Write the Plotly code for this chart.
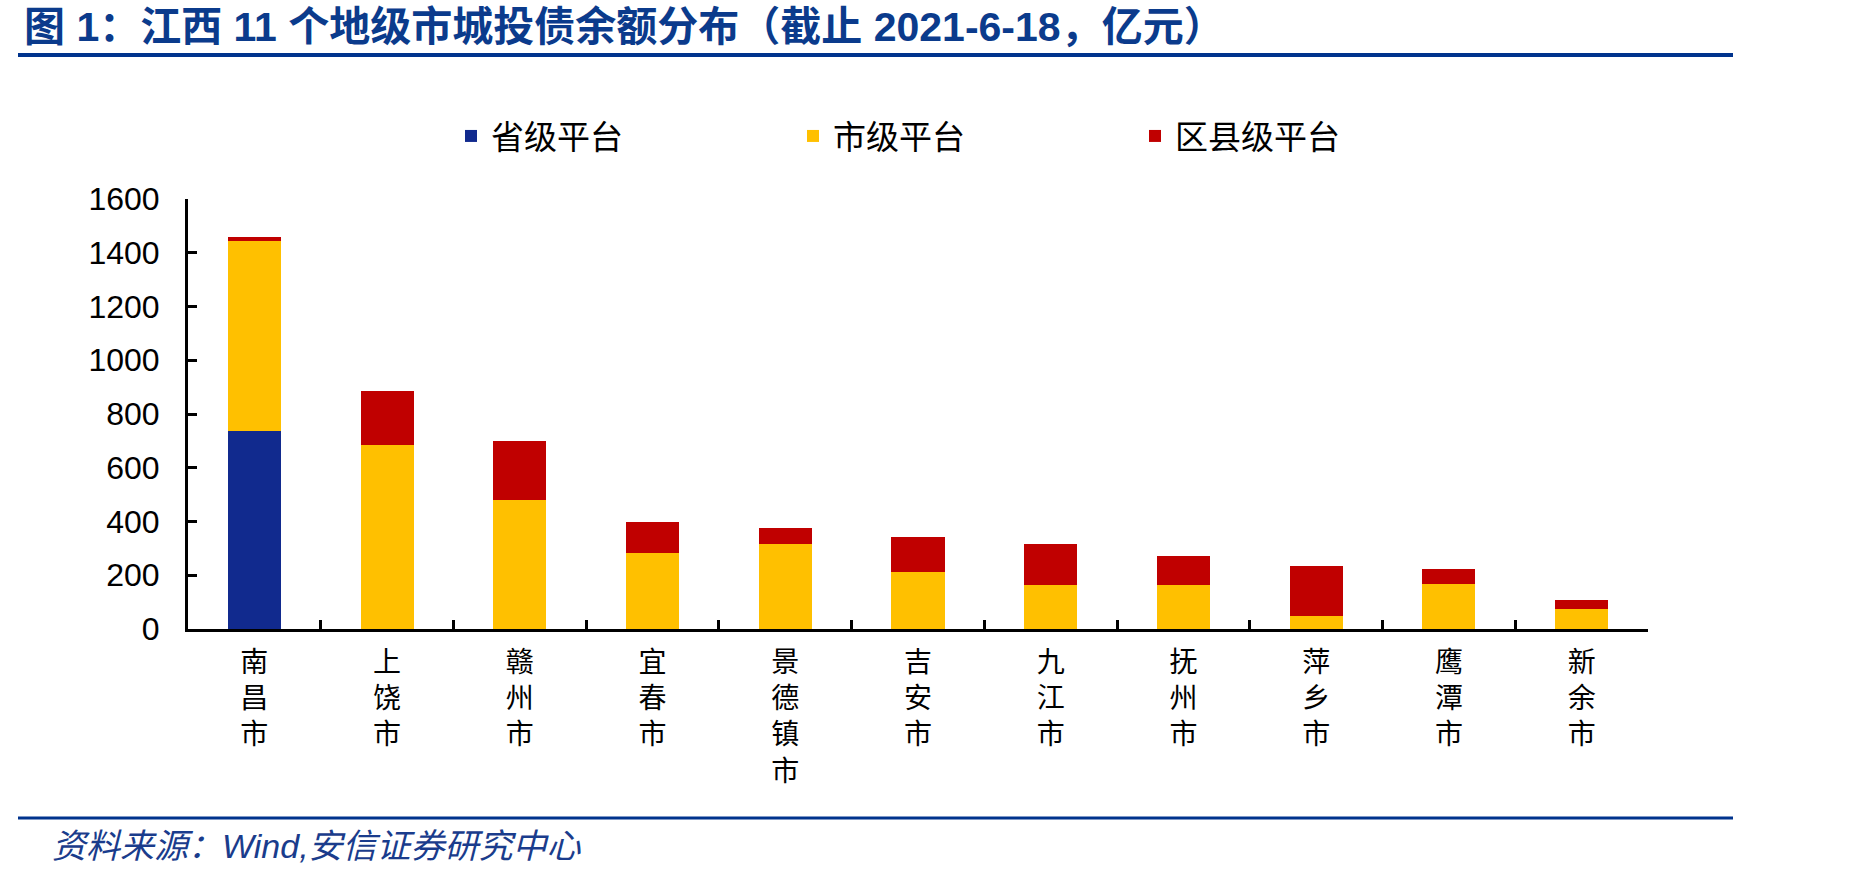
import plotly.graph_objects as go

cities = ["南昌市", "上饶市", "赣州市", "宜春市", "景德镇市", "吉安市", "九江市", "抚州市", "萍乡市", "鹰潭市", "新余市"]
provincial = [735, 0, 0, 0, 0, 0, 0, 0, 0, 0, 0]
municipal = [709, 686, 480, 282, 316, 212, 165, 165, 49, 166, 73]
district = [13, 199, 221, 116, 60, 129, 152, 105, 187, 57, 34]

series_names = ["省级平台", "市级平台", "区县级平台"]
colors = ["#112A8E", "#FFC000", "#C00000"]

tick_text = ["<br>".join(list(c)) for c in cities]

W, H = 1864, 874
L, R, T, B = 188, 1648, 199, 629
pw, ph = R - L, B - T

def px(x):
    return (x - L) / pw

def py(y):
    return (B - y) / ph

fig = go.Figure()
for name, vals, col in zip(series_names, [provincial, municipal, district], colors):
    fig.add_trace(go.Bar(
        name=name, x=cities, y=vals,
        marker=dict(color=col, line=dict(width=0)),
    ))

base_font = "Liberation Sans, Arial, Noto Sans CJK SC, sans-serif"

fig.update_layout(
    width=W, height=H,
    barmode="stack",
    bargap=0.6,
    plot_bgcolor="white",
    paper_bgcolor="white",
    margin=dict(l=L, r=W - R, t=T, b=H - B, pad=0),
    font=dict(family=base_font, color="black"),
    showlegend=True,
    legend=dict(
        orientation="h",
        x=px(451), xanchor="left",
        y=py(136), yanchor="middle",
        font=dict(size=33, family="Noto Sans CJK SC, sans-serif", color="black"),
        entrywidth=297, entrywidthmode="pixels",
        traceorder="normal",
        bgcolor="rgba(0,0,0,0)",
    ),
    xaxis=dict(
        type="category",
        tickmode="array",
        tickvals=cities,
        ticktext=tick_text,
        tickson="boundaries",
        ticks="inside",
        ticklen=9,
        tickwidth=3,
        tickcolor="black",
        showline=True,
        linecolor="black",
        linewidth=3,
        showgrid=False,
        zeroline=False,
        tickangle=0,
        tickfont=dict(size=28, family="Noto Sans CJK SC, sans-serif", color="black"),
        ticklabelstandoff=6,
    ),
    yaxis=dict(
        range=[0, 1600],
        tick0=0, dtick=200,
        ticks="inside",
        ticklen=9,
        tickwidth=3,
        tickcolor="black",
        showline=True,
        linecolor="black",
        linewidth=3,
        showgrid=False,
        zeroline=False,
        tickfont=dict(size=32, family=base_font, color="black"),
        ticklabelstandoff=19,
    ),
    title=dict(
        text="<b>图 1：江西 11 个地级市城投债余额分布（截止 2021-6-18，亿元）</b>",
        x=24 / W, xanchor="left", xref="container",
        y=1 - 27 / H, yanchor="middle", yref="container",
        font=dict(size=41, family="Liberation Sans, Arial, Noto Sans CJK SC, sans-serif", color="#0B3B8C"),
    ),
    annotations=[
        dict(
            text="<i>资料来源：Wind,安信证券研究中心</i>",
            xref="paper", yref="paper",
            x=px(50), y=py(846), xanchor="left", yanchor="middle",
            showarrow=False,
            font=dict(size=34, family="Liberation Sans, Arial, Noto Sans CJK SC, sans-serif", color="#1A3C8C"),
        )
    ],
    shapes=[
        dict(type="line", xref="paper", yref="paper",
             x0=px(18), x1=px(1733), y0=py(55), y1=py(55),
             line=dict(color="#00338D", width=4)),
        dict(type="line", xref="paper", yref="paper",
             x0=px(18), x1=px(1733), y0=py(818), y1=py(818),
             line=dict(color="#00338D", width=3)),
    ],
)

fig.write_html("out.html")
